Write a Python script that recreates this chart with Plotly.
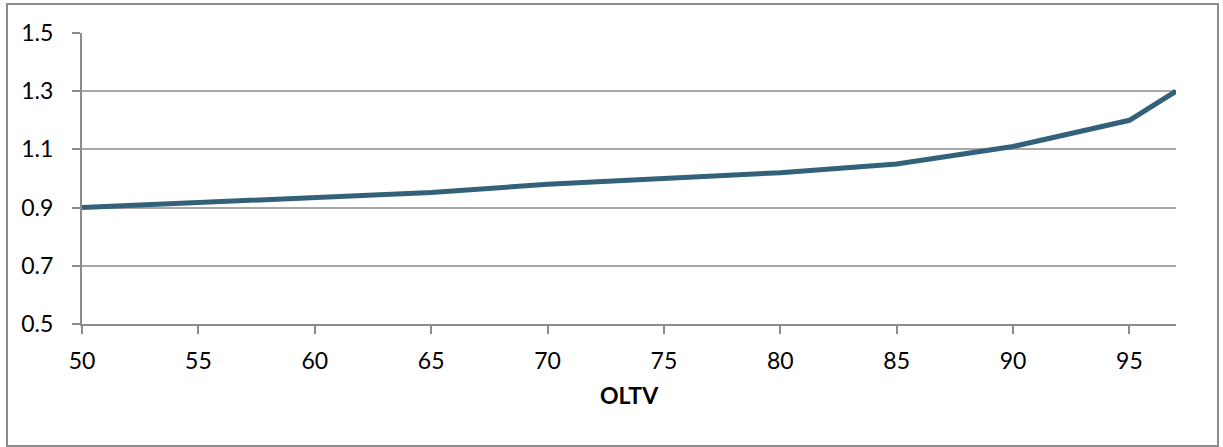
import plotly.graph_objects as go

oltv = [50, 55, 60, 65, 70, 75, 80, 85, 90, 95, 97]
values = [0.90, 0.917, 0.934, 0.952, 0.98, 1.0, 1.02, 1.05, 1.11, 1.20, 1.30]
x_ticks = [50, 55, 60, 65, 70, 75, 80, 85, 90, 95]
y_ticks = [0.5, 0.7, 0.9, 1.1, 1.3, 1.5]

W, H = 1223, 447
L, R, T, B = 82, 47, 33, 123
pw, ph = W - L - R, H - T - B

def px_to_paper_x(px):
    return (px - L) / pw

def px_to_paper_y(py):
    return (H - B - py) / ph

fig = go.Figure()
fig.add_trace(go.Scatter(
    x=oltv, y=values, mode="lines",
    line=dict(color="#336179", width=5),
    hoverinfo="skip", showlegend=False,
))

font = dict(family="Lato, Carlito, 'Open Sans', sans-serif", size=23, color="#000000")

fig.update_layout(
    width=W, height=H,
    margin=dict(l=L, r=R, t=T, b=B, pad=0),
    paper_bgcolor="white", plot_bgcolor="white",
    font=font,
    showlegend=False,
    xaxis=dict(
        range=[50, 97], tickvals=x_ticks, ticktext=[str(v) for v in x_ticks],
        showgrid=False, zeroline=False,
        showline=True, linecolor="#8c8c8c", linewidth=2,
        ticks="outside", ticklen=8, tickcolor="#8c8c8c", tickwidth=2,
        ticklabelstandoff=7,
        title=dict(text="<b>OLTV</b>", font=dict(family=font["family"], size=23, color="#000"), standoff=15),
    ),
    yaxis=dict(
        range=[0.5, 1.5], tickvals=y_ticks, ticktext=[f"{v:.1f}" for v in y_ticks],
        showgrid=True, gridcolor="#a8a8a8", gridwidth=2, zeroline=False,
        showline=True, linecolor="#8c8c8c", linewidth=2,
        ticks="outside", ticklen=8, tickcolor="#8c8c8c", tickwidth=2,
        ticklabelstandoff=14,
    ),
    shapes=[dict(
        type="rect", xref="paper", yref="paper",
        x0=px_to_paper_x(7), x1=px_to_paper_x(1218),
        y0=px_to_paper_y(446), y1=px_to_paper_y(4),
        line=dict(color="#8c8c8c", width=2), fillcolor="rgba(0,0,0,0)", layer="below",
    )],
)

fig.write_html("out.html")
